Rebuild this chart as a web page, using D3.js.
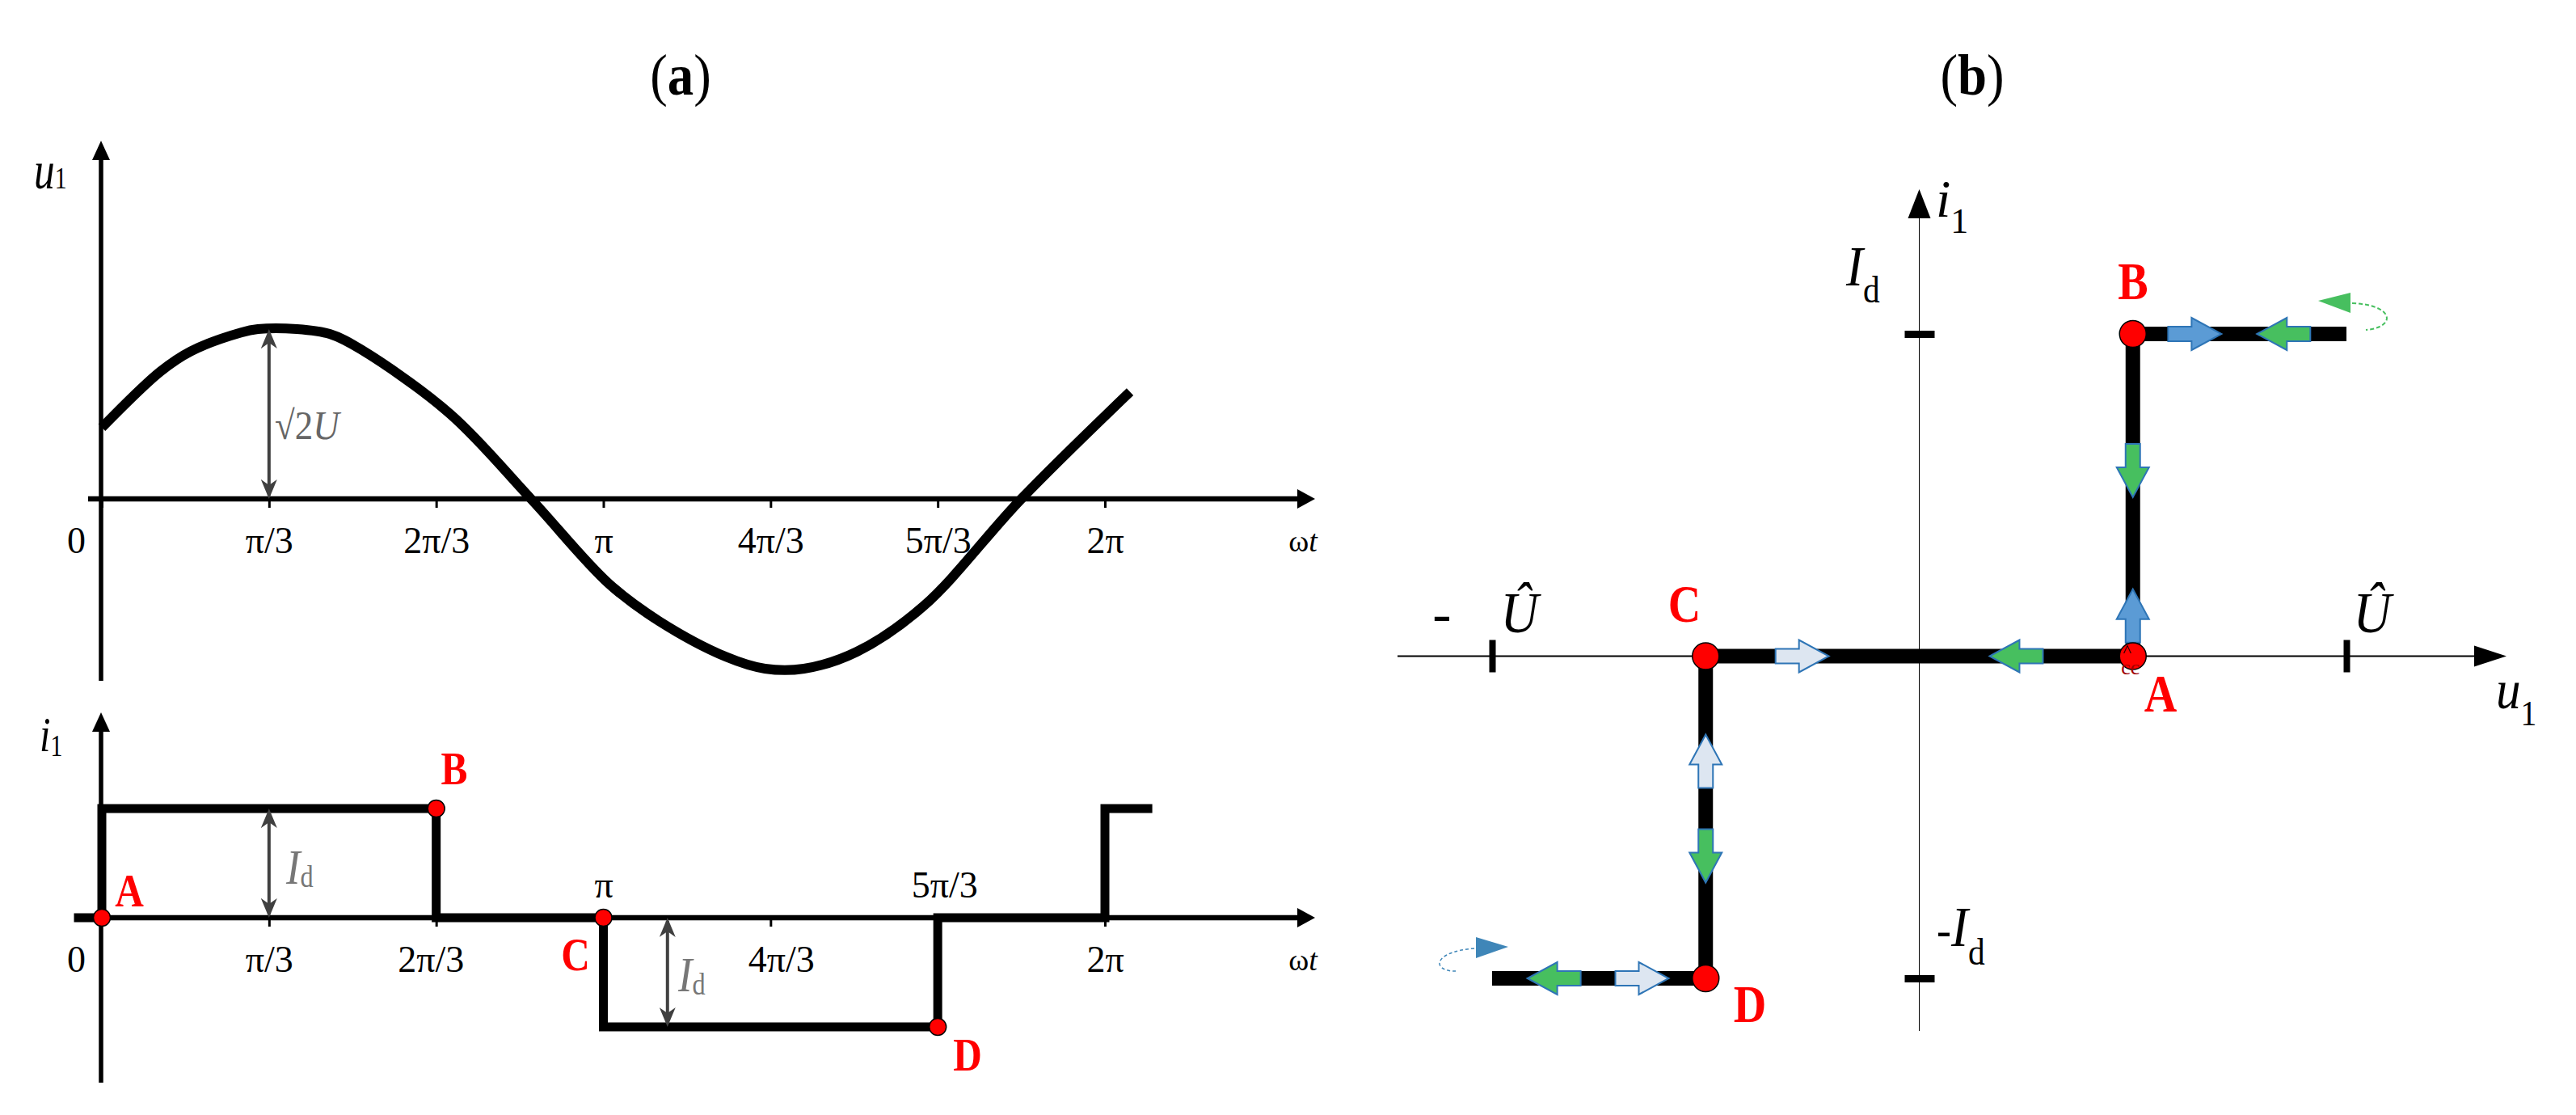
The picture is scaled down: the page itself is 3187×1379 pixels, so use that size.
<!DOCTYPE html>
<html>
<head>
<meta charset="utf-8">
<script src="https://cdn.jsdelivr.net/npm/d3@7"></script>
<style>
body{margin:0;background:#fff;}
svg text{font-family:"Liberation Serif","Times New Roman",serif;}
</style>
</head>
<body>
<div class="canvas"></div>
<script>
//panel (a) tick labels, angles in degrees
const tickAngles = [0,60,120,180,240,300,360];
const tickLabels = ['0','π/3','2π/3','π','4π/3','5π/3','2π'];

//u1 (units of √2U)
const sineAngles = [0,21,32,50,56,70,82,93,125,154,182,200,224,238,252,271,295,330,369];
const sineValues = [0.42,0.75,0.87,0.98,1,1,0.97,0.88,0.5,0,-0.5,-0.72,-0.93,-1,-1,-0.9,-0.63,0,0.63];

//i1 square wave (units of Id)
const stepAngles = [-10,0,0,120,120,180,180,300,300,360,360,377];
const stepValues = [0,0,1,1,0,0,-1,-1,0,0,1,1];

//marked points on the waveform
const pointNames = ['A','B','C','D'];
const pointAngles = [0,120,180,300];
const pointCurrents = [0,1,0,-1];

//panel (b) u1-i1 loop (u in units of U, i in units of Id)
const loopU = [1,0.5,0.5,-0.5,-0.5,-1];
const loopI = [1,1,0,0,-1,-1];
const pointU = [0.5,0.5,-0.5,-0.5];
const pointI = [0,1,0,-1];

//flow arrows on the loop
const flowU = [0.645,0.853,0.5,0.5,0.227,-0.274,-0.5,-0.5,-0.855,-0.649];
const flowI = [1,1,0.576,0.125,0,0,-0.326,-0.62,-1,-1];
const flowDir = ['right','left','down','up','left','right','up','down','left','right'];
const flowKind = ['blue','green','green','blue','green','pale','pale','green','green','pale'];

const W = 3187, H = 1379;
const serif = '"Liberation Serif","Times New Roman",serif';
const fills = {blue:'#5b9bd5', green:'#47bf5f', pale:'#dde6f1'};
const rot = {right:0, down:90, left:180, up:-90};

const svg = d3.select('.canvas').append('svg')
	.attr('width',W)
	.attr('height',H);

const defs = svg.append('defs');
defs.append('marker')
	.attr('id','garrow')
	.attr('viewBox','0 0 24 20')
	.attr('markerUnits','userSpaceOnUse')
	.attr('markerWidth',24)
	.attr('markerHeight',20)
	.attr('refX',20)
	.attr('refY',10)
	.attr('orient','auto-start-reverse')
	.append('path')
	.attr('d','M0,0 L24,10 L0,20 L7,10 Z')
	.attr('fill','#404040');

//text with tspans, optional horizontal squeeze
function addText(g, x, y, parts, o){
	o = o || {};
	const t = g.append('text')
		.attr('transform',`translate(${x},${y}) scale(${o.sx||1},1)`)
		.attr('text-anchor',o.anchor||'start')
		.attr('fill',o.fill||'#000')
		.style('font-family',serif);
	parts.forEach(p=>{
		t.append('tspan').text(p.t)
			.attr('font-size',p.size)
			.attr('font-style',p.italic?'italic':null)
			.attr('font-weight',p.bold?'bold':null)
			.attr('dy',p.dy||null);
	});
	return t;
}

function tri(g, pts, fill){
	g.append('path').attr('d','M'+pts.map(p=>p.join(',')).join('L')+'Z').attr('fill',fill);
}

// ---------------- panel (a) ----------------
const xA = d3.scaleLinear().domain([0,360]).range([126,1367]);
const yTop = d3.scaleLinear().domain([-1,1]).range([827,407]);
const yBot = d3.scaleLinear().domain([-1,1]).range([1270,1000]);
const ga = svg.append('g');

addText(ga, 842, 117, [{t:'(',size:72},{t:'a',size:72,bold:true},{t:')',size:72}], {anchor:'middle', sx:0.9});

function drawAxesA(yScale, yTopAxis, yBottomAxis, above){
	const y0 = yScale(0);
	ga.append('line').attr('x1',109).attr('x2',1606).attr('y1',y0).attr('y2',y0)
		.attr('stroke','#000').attr('stroke-width',6.5);
	tri(ga, [[1627,y0],[1605,y0-12],[1605,y0+12]], '#000');
	ga.append('line').attr('x1',125).attr('x2',125).attr('y1',yBottomAxis).attr('y2',yTopAxis+22)
		.attr('stroke','#000').attr('stroke-width',5.5);
	tri(ga, [[125,yTopAxis],[114,yTopAxis+24],[136,yTopAxis+24]], '#000');

	const axis = d3.axisBottom(xA)
		.tickValues(tickAngles)
		.tickSize(11)
		.tickFormat((d,i)=>tickLabels[i]);
	const ax = ga.append('g').attr('transform',`translate(0,${y0})`).call(axis);
	ax.select('.domain').remove();
	ax.selectAll('.tick line').attr('stroke','#000').attr('stroke-width',3);
	ax.selectAll('.tick text')
		.style('font-family',serif)
		.attr('font-size',46)
		.attr('fill','#000')
		.attr('dy',null)
		.attr('y',d=>above.indexOf(d)>=0 ? -25 : 67)
		.attr('x',d=>{
			if(d===0) return -32;
			if(above.length && d===120) return -7;
			if(above.length && d===240) return 13;
			if(above.length && d===300) return 8;
			return 0;
		});
	addText(ga, 1612, yScale(0)+65, [{t:'ω',size:38},{t:'t',size:38,italic:true}], {anchor:'middle'});
}

drawAxesA(yTop, 174, 842, []);
drawAxesA(yBot, 881, 1339, [180,300]);

addText(ga, 42, 233, [{t:'u',size:66,italic:true},{t:'1',size:38}], {sx:0.78});
addText(ga, 49, 929, [{t:'i',size:62,italic:true},{t:'1',size:38,dy:6}], {sx:0.78});

//sine
const sineLine = d3.line().x(d=>xA(d[0])).y(d=>yTop(d[1])).curve(d3.curveCatmullRom.alpha(0.5));
ga.append('path')
	.attr('d',sineLine(d3.zip(sineAngles,sineValues)))
	.attr('fill','none').attr('stroke','#000').attr('stroke-width',12)
	.attr('stroke-linejoin','round');

//square wave
const stepLine = d3.line().x(d=>xA(d[0])).y(d=>yBot(d[1]));
ga.append('path')
	.attr('d',stepLine(d3.zip(stepAngles,stepValues)))
	.attr('fill','none').attr('stroke','#000').attr('stroke-width',11)
	.attr('stroke-linejoin','miter');

//gray amplitude arrows
function grayArrow(x, y1, y2){
	ga.append('line').attr('x1',x).attr('x2',x).attr('y1',y1+4).attr('y2',y2-4)
		.attr('stroke','#404040').attr('stroke-width',4)
		.attr('marker-start','url(#garrow)').attr('marker-end','url(#garrow)');
}
grayArrow(xA(60), yTop(1), yTop(0));
grayArrow(xA(60), yBot(1), yBot(0));
grayArrow(xA(203), yBot(0), yBot(-1));

addText(ga, 340, 543, [{t:'√2',size:50},{t:'U',size:50,italic:true}], {fill:'#666', sx:0.9});
addText(ga, 354, 1093, [{t:'I',size:62,italic:true},{t:'d',size:38,dy:4}], {fill:'#777', sx:0.85});
addText(ga, 839, 1226, [{t:'I',size:62,italic:true},{t:'d',size:38,dy:4}], {fill:'#777', sx:0.85});

//points
ga.selectAll('.dotA').data(pointAngles).enter().append('circle')
	.attr('class','dotA')
	.attr('cx',d=>xA(d))
	.attr('cy',(d,i)=>yBot(pointCurrents[i]))
	.attr('r',10.5)
	.attr('fill','#ff0000').attr('stroke','#000').attr('stroke-width',1.5);

const labA = {A:[160,1121],B:[562,970],C:[712,1200],D:[1197,1324]};
pointNames.forEach(n=>{
	addText(ga, labA[n][0], labA[n][1], [{t:n,size:58,bold:true}], {anchor:'middle', fill:'#ff0000', sx:0.85});
});

// ---------------- panel (b) ----------------
const xB = d3.scaleLinear().domain([-1,1]).range([1846,2903]);
const yB = d3.scaleLinear().domain([-1,1]).range([1210,413]);
const gb = svg.append('g');

addText(gb, 2440, 117, [{t:'(',size:72},{t:'b',size:72,bold:true},{t:')',size:72}], {anchor:'middle', sx:0.9});

//axes
gb.append('line').attr('x1',1729).attr('x2',3065).attr('y1',yB(0)).attr('y2',yB(0))
	.attr('stroke','#000').attr('stroke-width',1.8);
tri(gb, [[3101,yB(0)],[3061,yB(0)-13],[3061,yB(0)+13]], '#000');
gb.append('line').attr('x1',xB(0)).attr('x2',xB(0)).attr('y1',1275).attr('y2',266)
	.attr('stroke','#000').attr('stroke-width',1);
tri(gb, [[xB(0),234],[xB(0)-14,270],[xB(0)+14,270]], '#000');

const uAxis = d3.axisBottom(xB).tickValues([-1,1]).tickSize(20).tickFormat('');
const ua = gb.append('g').attr('transform',`translate(0,${yB(0)})`).call(uAxis);
ua.select('.domain').remove();
ua.selectAll('.tick line').attr('y1',-20).attr('stroke','#000').attr('stroke-width',8);

const iAxis = d3.axisLeft(yB).tickValues([-1,1]).tickSize(18).tickFormat('');
const ia = gb.append('g').attr('transform',`translate(${xB(0)},0)`).call(iAxis);
ia.select('.domain').remove();
ia.selectAll('.tick line').attr('x2',-18).attr('x1',19).attr('stroke','#000').attr('stroke-width',9);

addText(gb, 2395, 268, [{t:'i',size:66,italic:true},{t:'1',size:44,dy:20}]);
addText(gb, 3088, 876, [{t:'u',size:68,italic:true},{t:'1',size:44,dy:21}], {sx:0.9});
addText(gb, 2284, 353, [{t:'I',size:70,italic:true},{t:'d',size:46,dy:21}], {sx:0.9});
addText(gb, 2396, 1170, [{t:'-',size:60},{t:'I',size:70,italic:true},{t:'d',size:46,dy:23}], {sx:0.9});
addText(gb, xB(1)+32, 782, [{t:'Û',size:72,italic:true}], {anchor:'middle', sx:0.9});
addText(gb, xB(-1)-62, 782, [{t:'-',size:70}], {anchor:'middle'});
addText(gb, xB(-1)+34, 782, [{t:'Û',size:72,italic:true}], {anchor:'middle', sx:0.9});

//loop
const loopLine = d3.line().x(d=>xB(d[0])).y(d=>yB(d[1]));
gb.append('path')
	.attr('d',loopLine(d3.zip(loopU,loopI)))
	.attr('fill','none').attr('stroke','#000').attr('stroke-width',18)
	.attr('stroke-linejoin','miter');

//flow arrows
gb.selectAll('.flow').data(flowU).enter().append('path')
	.attr('class','flow')
	.attr('d','M-33,-9 L-4,-9 L-4,-20 L33,0 L-4,20 L-4,9 L-33,9 Z')
	.attr('transform',(d,i)=>`translate(${xB(d)},${yB(flowI[i])}) rotate(${rot[flowDir[i]]})`)
	.attr('fill',(d,i)=>fills[flowKind[i]])
	.attr('stroke','#2e75b6').attr('stroke-width',2)
	.attr('stroke-linejoin','miter');

//dashed turn-around arrows at the loop ends
const eB = [xB(1), yB(1)];
gb.append('path')
	.attr('d',`M${eB[0]+7},${eB[1]-38} C${eB[0]+60},${eB[1]-36} ${eB[0]+62},${eB[1]-8} ${eB[0]+24},${eB[1]-5}`)
	.attr('fill','none').attr('stroke','#47bf5f').attr('stroke-width',2).attr('stroke-dasharray','5,3');
tri(gb, [[eB[0]-35,eB[1]-41],[eB[0]+5,eB[1]-51],[eB[0]+5,eB[1]-26]], '#47bf5f');

const eD = [xB(-1), yB(-1)];
gb.append('path')
	.attr('d',`M${eD[0]-22},${eD[1]-37} C${eD[0]-75},${eD[1]-33} ${eD[0]-75},${eD[1]-8} ${eD[0]-44},${eD[1]-9}`)
	.attr('fill','none').attr('stroke','#3f86b8').attr('stroke-width',1.5).attr('stroke-dasharray','4,3');
tri(gb, [[eD[0]+20,eD[1]-39],[eD[0]-20,eD[1]-51],[eD[0]-20,eD[1]-25]], '#3f86b8');

//points
gb.selectAll('.dotB').data(pointU).enter().append('circle')
	.attr('class','dotB')
	.attr('cx',d=>xB(d))
	.attr('cy',(d,i)=>yB(pointI[i]))
	.attr('r',16.5)
	.attr('fill','#ff0000').attr('stroke','#000').attr('stroke-width',1.5);

addText(gb, xB(0.5)-7, yB(0), [{t:'^',size:22}], {anchor:'middle'});
addText(gb, xB(0.5)-3, yB(0)+22, [{t:'cc',size:26}], {anchor:'middle', fill:'#a00000'});

const labB = {A:[2673,880],B:[2639,370],C:[2084,769],D:[2165,1264]};
pointNames.forEach(n=>{
	addText(gb, labB[n][0], labB[n][1], [{t:n,size:66,bold:true}], {anchor:'middle', fill:'#ff0000', sx:0.85});
});
</script>
</body>
</html>
